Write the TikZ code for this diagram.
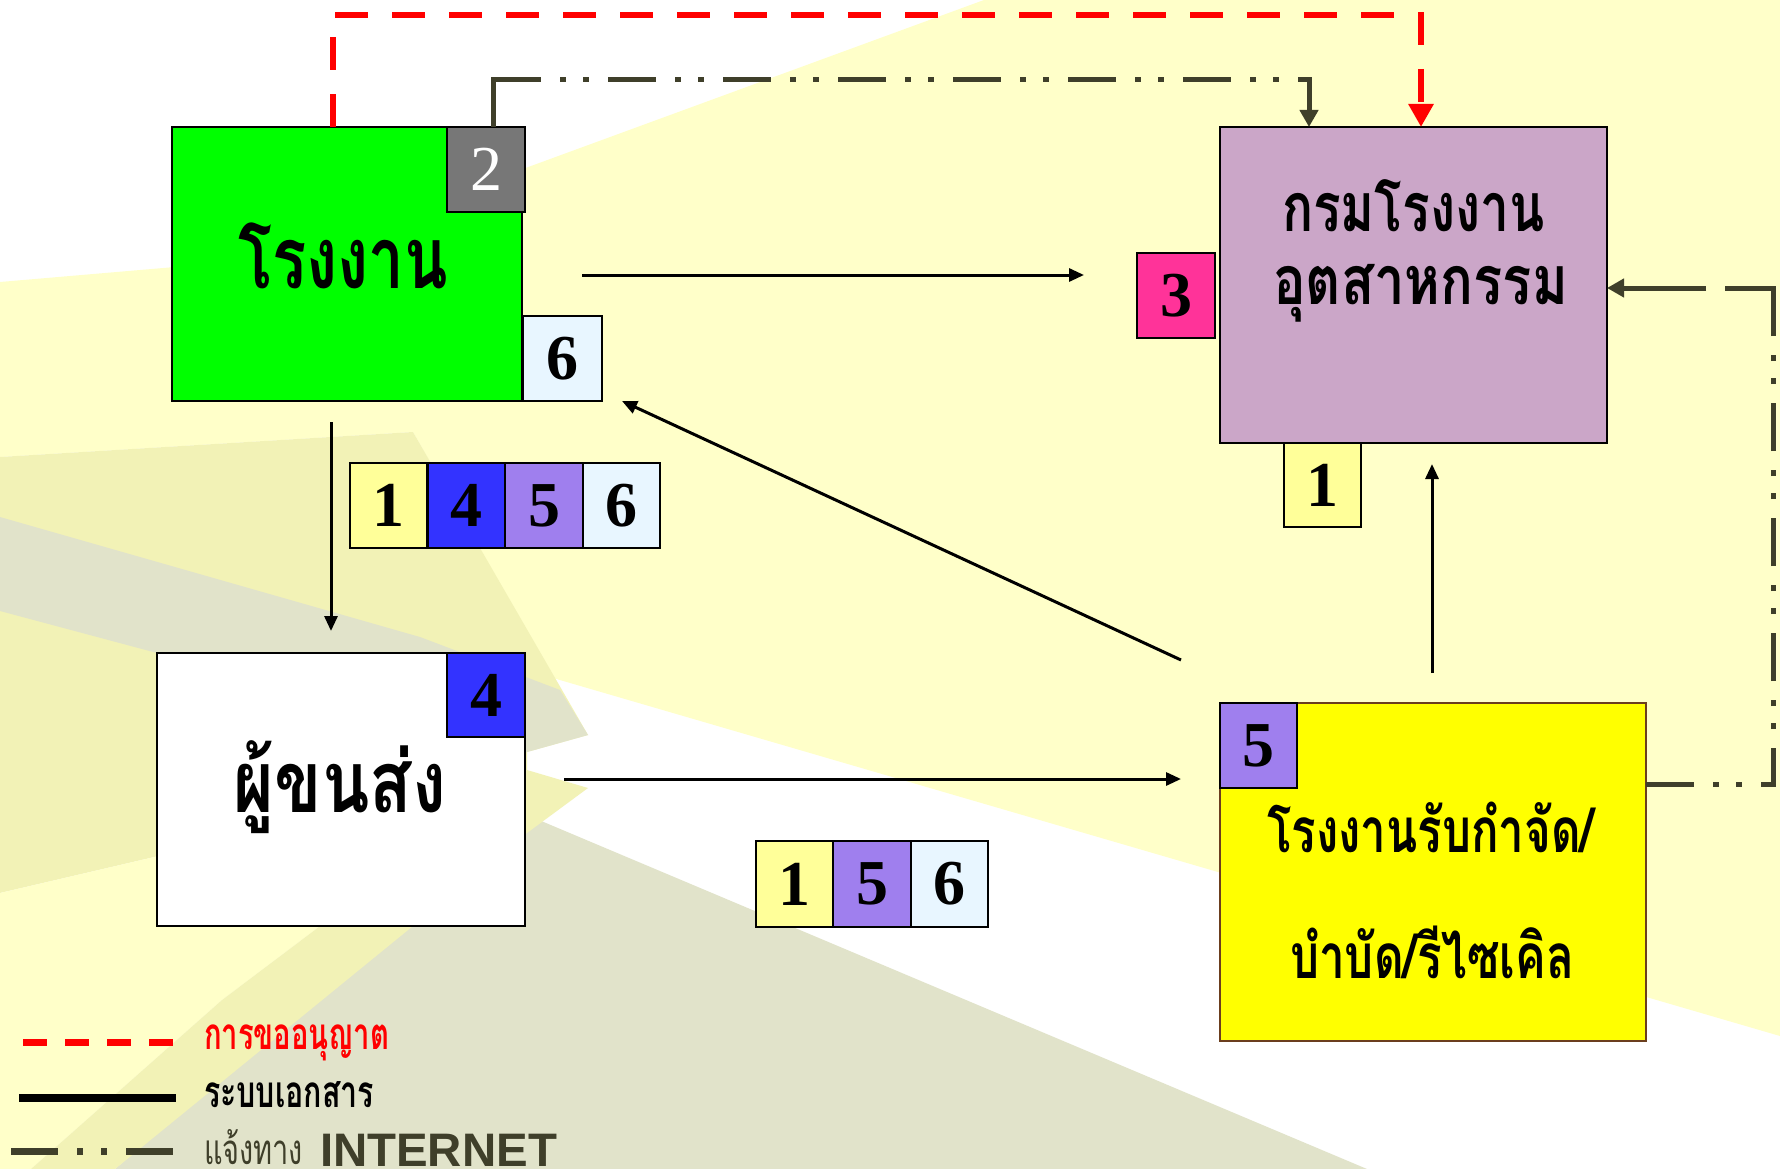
\documentclass[tikz,border=0pt]{standalone}
\usepackage{fontspec}
\usepackage{graphicx}
\setmainfont{Liberation Serif}
\newfontfamily\thaifont[Script=Thai]{Loma}
\newfontfamily\arialfont{Liberation Sans}
\usetikzlibrary{arrows.meta,calc}
\definecolor{bgyA}{HTML}{FFFFC9}
\definecolor{bgyB}{HTML}{F2F2B6}
\definecolor{bggr}{HTML}{E1E3CA}
\definecolor{cgreen}{HTML}{00FF00}
\definecolor{cgray}{HTML}{777777}
\definecolor{clblue}{HTML}{E8F6FF}
\definecolor{clyel}{HTML}{FFFF99}
\definecolor{cblue}{HTML}{3333FF}
\definecolor{cviolet}{HTML}{9F7FEE}
\definecolor{cpink}{HTML}{FF3399}
\definecolor{cmauve}{HTML}{CBA6C8}
\definecolor{cyellow}{HTML}{FFFF00}
\definecolor{cbrown}{HTML}{6B3E1E}
\definecolor{permitred}{HTML}{FF0000}
\definecolor{inetgray}{HTML}{3F3F2A}
\newcommand\fitw[2]{\resizebox{#1}{\height}{#2}}
\newcommand\thaiL[1]{\thaifont\bfseries\fontsize{#1}{#1}\selectfont}
\begin{document}
\begin{tikzpicture}[x=1pt,y=-1pt,
  box/.style={draw=black,line width=2.5pt,inner sep=0pt,outer sep=0pt},
  numb/.style={font=\fontsize{64}{64}\selectfont\bfseries},
  lbl/.style={anchor=base,inner sep=0pt,outer sep=0pt},
  doc/.style={draw=black,line width=3pt,-{Triangle[length=15pt,width=13pt]}},
  permit/.style={draw=permitred,line width=6pt,dash pattern=on 33pt off 24pt,-{Triangle[length=23pt,width=24pt]}},
  inet/.style={draw=inetgray,line width=5pt,dash pattern=on 48pt off 19pt on 6pt off 17pt on 6pt off 19pt,-{Triangle[length=17pt,width=18pt]}},
  inetsolid/.style={draw=inetgray,line width=5pt},
]
\useasboundingbox (0,0) rectangle (1780,1169);
% background
\fill[white] (0,0) rectangle (1780,1169);
\fill[bgyA] (0,282) -- (280,258) -- (984,0) -- (1780,0) -- (1780,1036) -- (553,678) -- (413,432) -- (0,457) -- cycle;
\fill[bgyB] (0,457) -- (413,432) -- (588,735) -- (527,752) -- (527,770) -- (0,893) -- cycle;
\fill[bggr] (0,517) -- (420,637) -- (560,690) -- (588,735) -- (527,752) -- (0,611) -- cycle;
\fill[bgyA] (0,893) -- (527,770) -- (222,1000) -- (31,1169) -- (0,1169) -- cycle;
\fill[bggr] (527,815) -- (1367,1169) -- (115,1169) -- cycle;
\fill[bgyB] (588,788) -- (527,770) -- (222,1000) -- (31,1169) -- (115,1169) -- (527,833) -- cycle;

% main boxes
\node[box,fill=cgreen,minimum width=350pt,minimum height=274pt] (green) at (347,264) {};
\node[box,fill=cgray,minimum width=78pt,minimum height=85pt,text=white,font=\fontsize{64}{64}\selectfont] (box2) at (486,169.5) {2};
\node[box,fill=clblue,minimum width=79pt,minimum height=85pt,numb] (box6a) at (562.5,358.5) {6};
\node[lbl] (lblA) at (343,288) {\fitw{210pt}{\thaiL{86}โรงงาน}};

\node[box,fill=white,minimum width=368pt,minimum height=273pt] (trans) at (341,789.5) {};
\node[box,fill=cblue,minimum width=78pt,minimum height=84pt,numb] (box4a) at (486,695) {4};
\node[lbl] (lblB) at (340,812) {\fitw{212pt}{\thaiL{86}ผู้ขนส่ง}};

\node[box,fill=cmauve,minimum width=387pt,minimum height=316pt] (purple) at (1413.5,285) {};
\node[box,fill=cpink,minimum width=78pt,minimum height=85pt,numb] (box3) at (1176,295.5) {3};
\node[box,fill=clyel,minimum width=77pt,minimum height=84pt,numb] (box1a) at (1322.5,485) {1};
\node[lbl] (lblC1) at (1413.5,232) {\fitw{263pt}{\thaiL{68}กรมโรงงาน}};
\node[lbl] (lblC2) at (1420.5,304) {\fitw{295pt}{\thaiL{68}อุตสาหกรรม}};

\node[box,draw=cbrown,fill=cyellow,minimum width=426pt,minimum height=338pt] (yellow) at (1433,872) {};
\node[box,fill=cviolet,minimum width=77pt,minimum height=85pt,numb] (box5a) at (1258.5,745.5) {5};
\node[lbl] (lblD1) at (1430.5,852) {\fitw{327pt}{\thaiL{62}โรงงานรับกำจัด/}};
\node[lbl] (lblD2) at (1432,978) {\fitw{284pt}{\thaiL{62}บำบัด/รีไซเคิล}};

% strip 1 4 5 6
\node[box,fill=clyel,minimum width=77.5pt,minimum height=85pt,numb] (sa1) at (388.75,505.5) {1};
\node[box,fill=cblue,minimum width=77.5pt,minimum height=85pt,numb] (sa4) at (466.25,505.5) {4};
\node[box,fill=cviolet,minimum width=78pt,minimum height=85pt,numb] (sa5) at (544,505.5) {5};
\node[box,fill=clblue,minimum width=77pt,minimum height=85pt,numb] (sa6) at (621.5,505.5) {6};
% strip 1 5 6
\node[box,fill=clyel,minimum width=77pt,minimum height=86pt,numb] (sb1) at (794.5,884) {1};
\node[box,fill=cviolet,minimum width=78pt,minimum height=86pt,numb] (sb5) at (872,884) {5};
\node[box,fill=clblue,minimum width=77pt,minimum height=86pt,numb] (sb6) at (949.5,884) {6};

% document connectors
\draw[doc,shorten <=60pt,shorten >=53pt] ([yshift=-11pt]green.east) -- ([yshift=20.5pt]box3.west);
\draw[doc,shorten <=21pt,shorten >=22pt] ([xshift=-16pt]green.south) -- ([xshift=-10pt]trans.north);
\draw[doc,shorten <=39pt,shorten >=39pt] ([yshift=10.5pt]trans.east) -- ([yshift=93pt]yellow.west);
\draw[doc,shorten <=30pt,shorten >=21pt] ([xshift=-1pt]yellow.north) -- ([xshift=18.5pt]purple.south);
\draw[doc] ([shift={(-39pt,43pt)}]yellow.north west) -- ([xshift=20pt]box6a.south east);

% permit connector
\draw[permit] ([xshift=-14pt]green.north) -- ++(0,-112) -| ([xshift=7.5pt]purple.north);

% internet connectors
\draw[inet,dash phase=68pt] ([xshift=7pt]box2.north) -- ++(0,-47) -| ([xshift=-104.5pt]purple.north);
\draw[inetsolid] ([xshift=7pt]box2.north) -- ++(0,-47) -- ++(46,0);
\draw[inet] ([yshift=88pt]yellow.east) -- ++(127,0) |- ([yshift=-3pt]purple.east);
\draw[inetsolid] ($(purple.east)+(166,39)$) -- ($(purple.east)+(166,3)$) -- ($(purple.east)+(118,3)$);
\draw[inetsolid] ($(purple.east)+(53,3)$) -- ($(purple.east)+(10,3)$);

% legend
\draw[permitred,line width=7pt,dash pattern=on 24pt off 18pt] (23,1042) -- (176,1042);
\draw[black,line width=8pt] (19,1098) -- (176,1098);
\draw[inetgray,line width=7pt,dash pattern=on 47pt off 19pt on 6pt off 18pt on 6pt off 19pt] (11,1151) -- (176,1151);
\node[lbl,anchor=base west,text=permitred] (legA) at (204,1049) {\fitw{185pt}{\thaiL{44}การขออนุญาต}};
\node[lbl,anchor=base west] (legB) at (204,1107) {\fitw{170pt}{\thaiL{44}ระบบเอกสาร}};
\node[lbl,anchor=base west,text=inetgray] (legC) at (204,1164) {\fitw{99pt}{\thaifont\fontsize{42}{42}\selectfont แจ้งทาง}};
\node[lbl,anchor=base west,text=inetgray] (legD) at (320,1166) {\fitw{237pt}{\arialfont\bfseries\fontsize{47}{47}\selectfont INTERNET}};
\end{tikzpicture}
\end{document}
